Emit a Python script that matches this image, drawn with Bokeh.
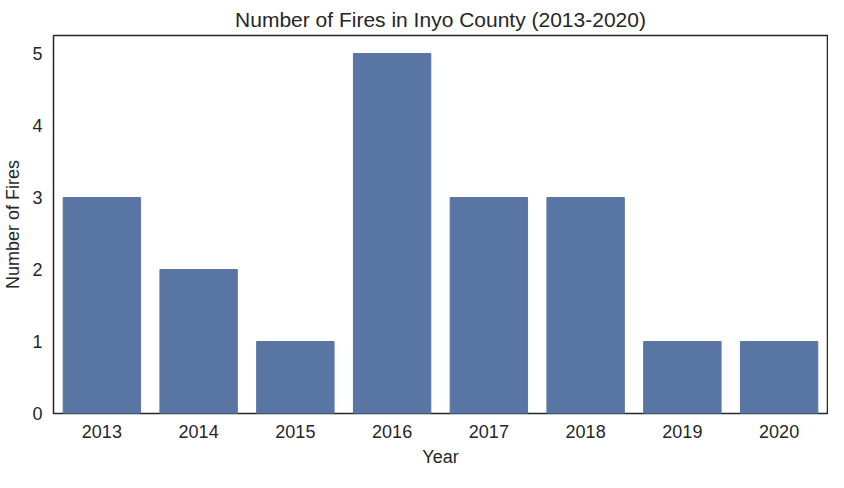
from bokeh.plotting import figure
from bokeh.models import Range1d, FixedTicker
from bokeh.embed import file_html
from bokeh.resources import INLINE

years = ["2013", "2014", "2015", "2016", "2017", "2018", "2019", "2020"]
fires = [3, 2, 1, 5, 3, 3, 1, 1]

p = figure(x_range=years, width=828, height=472, output_backend="svg", toolbar_location=None,
           title="Number of Fires in Inyo County (2013-2020)",
           min_border_left=52, min_border_right=1, min_border_top=27, min_border_bottom=59)
p.y_range = Range1d(0, 5.25)
p.vbar(x=years, top=fires, width=0.8, color="#5975a4")
p.x_range.range_padding = 0
p.xgrid.visible = False
p.ygrid.visible = False
p.outline_line_color = "#262626"
p.outline_line_width = 1.5
p.title.align = "center"
p.title.text_font = "Liberation Sans"
p.title.text_font_size = "21px"
p.title.text_font_style = "normal"
p.title.text_color = "#262626"
p.xaxis.axis_label = "Year"
p.yaxis.axis_label = "Number of Fires"
p.yaxis.ticker = FixedTicker(ticks=[0, 1, 2, 3, 4, 5])
for ax in (p.xaxis[0], p.yaxis[0]):
    ax.axis_label_text_font = "Liberation Sans"
    ax.axis_label_text_font_size = "18px"
    ax.axis_label_text_font_style = "normal"
    ax.axis_label_text_color = "#262626"
    ax.major_label_text_font = "Liberation Sans"
    ax.major_label_text_font_size = "18px"
    ax.major_label_text_color = "#262626"
    ax.major_tick_line_color = None
    ax.minor_tick_line_color = None
    ax.axis_line_color = None
    ax.axis_label_standoff = 6
open("out.html", "w").write(file_html(p, INLINE))
